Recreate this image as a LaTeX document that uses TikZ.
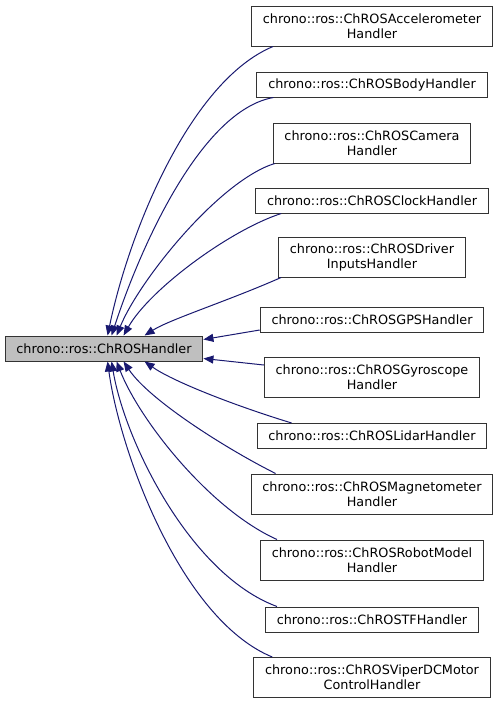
\documentclass[tikz,border=0pt]{standalone}
\usepackage{fontspec}
\setmainfont{DejaVu Sans}
\usepackage{tikz}
\usetikzlibrary{arrows.meta, calc}

\definecolor{edgeblue}{HTML}{191970}
\definecolor{basegrey}{HTML}{BFBFBF}

\begin{document}
\begin{tikzpicture}[
		x=0.75pt, y=-0.75pt,
		% Define styles for the class boxes and the inheritance edges
		class_box/.style={
			rectangle,
			draw=black!80,
			line width=0.75pt,
			fill=white,
			align=center,
			font=\fontsize{9.6pt}{11.25pt}\selectfont,
			inner xsep=8.5pt,
			inner ysep=1pt,
			minimum height=18.75pt
		},
		two_line/.style={
			class_box,
			minimum height=30pt
		},
		base_box/.style={
			class_box,
			fill=basegrey
		},
		edge_style/.style={
			-{Triangle[length=7.5pt, width=6pt]},
			line width=0.75pt,
			draw=edgeblue
		},
		]
		\useasboundingbox (0,0) rectangle (499,704);
		
		% ----- Nodes -----
		% The base class
		\node[base_box] (base) at (104, 348.5) {chrono::ros::ChROSHandler};
		
		% The derived classes
		\node[two_line] (accel) at (372, 26) {chrono::ros::ChROSAccelerometer\\Handler};
		\node[class_box] (body) at (372, 84.5) {chrono::ros::ChROSBodyHandler};
		\node[two_line] (camera) at (372, 143) {chrono::ros::ChROSCamera\\Handler};
		\node[class_box] (clock) at (372, 200.5) {chrono::ros::ChROSClockHandler};
		\node[two_line] (driver) at (372, 257) {chrono::ros::ChROSDriver\\InputsHandler};
		\node[class_box] (gps) at (372, 320) {chrono::ros::ChROSGPSHandler};
		\node[two_line] (gyro) at (372, 377.5) {chrono::ros::ChROSGyroscope\\Handler};
		\node[class_box] (lidar) at (372, 436) {chrono::ros::ChROSLidarHandler};
		\node[two_line] (magnet) at (372, 494) {chrono::ros::ChROSMagnetometer\\Handler};
		\node[two_line] (robot) at (372, 560) {chrono::ros::ChROSRobotModel\\Handler};
		\node[class_box] (tf) at (372, 619.5) {chrono::ros::ChROSTFHandler};
		\node[two_line] (viper) at (372, 677.5) {chrono::ros::ChROSViperDCMotor\\ControlHandler};
		
		% ----- Arrows -----
		% Edges entering the top of the base class
		\draw[edge_style] ($(accel.south west)+(22,0)$) .. controls +(-82,34) and +(22,-106) .. ($(base.north west)+(103,0)$);
		\draw[edge_style] ($(body.south west)+(17,0)$) .. controls +(-73,13) and +(28,-86) .. ($(base.north west)+(107,0)$);
		\draw[edge_style] ($(camera.south west)+(2,0)$) .. controls +(-55,17) and +(23,-56) .. ($(base.north west)+(112,0)$);
		\draw[edge_style] ($(clock.south west)+(26,0)$) .. controls +(-52,17) and +(26,-46) .. ($(base.north west)+(119,0)$);
		\draw[edge_style] ($(driver.south west)+(3,0)$) .. controls +(-52,23) and +(25,-16) .. ($(base.north west)+(140,0)$);
		
		% Edges entering the right side of the base class
		\draw[edge_style] ($(gps.south west)+(0,-3)$) -- ($(base.north east)+(0,4)$);
		\draw[edge_style] ($(gyro.north west)+(0,8)$) -- ($(base.south east)+(0,-3)$);
		
		% Edges entering the bottom of the base class
		\draw[edge_style] ($(lidar.north west)+(35,0)$) .. controls +(-62,-19) and +(27,19) .. ($(base.south west)+(140,0)$);
		\draw[edge_style] ($(magnet.north west)+(25,0)$) .. controls +(-48,-24) and +(26,39) .. ($(base.south west)+(119,0)$);
		\draw[edge_style] ($(robot.north west)+(17,0)$) .. controls +(-67,-30) and +(23,59) .. ($(base.south west)+(112,0)$);
		\draw[edge_style] ($(tf.north west)+(12,0)$) .. controls +(-87,-32) and +(13,79) .. ($(base.south west)+(107,0)$);
		\draw[edge_style] ($(viper.north west)+(19,0)$) .. controls +(-92,-38) and +(12,89) .. ($(base.south west)+(103,0)$);
		
	\end{tikzpicture}
\end{document}
